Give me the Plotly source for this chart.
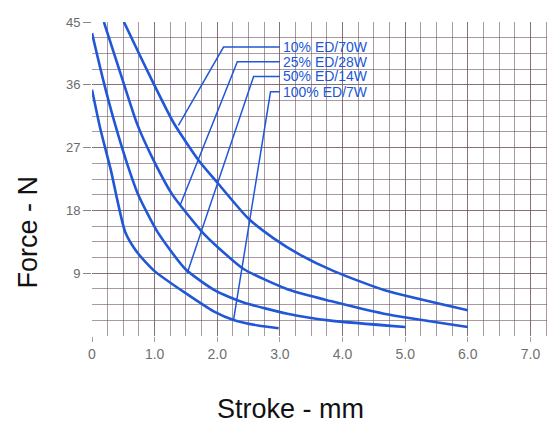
import plotly.graph_objects as go

# ---- data ----
series_labels = ["10% ED/70W", "25% ED/28W", "50% ED/14W", "100% ED/7W"]

stroke_10 = [0.51, 0.9, 1.3, 1.7, 2.0, 2.5, 2.9, 3.33, 3.86, 4.66, 6.0]
force_10 = [45.0, 37.7, 30.6, 25.2, 22.0, 16.8, 14.0, 11.6, 9.3, 6.6, 3.7]

stroke_25 = [0.19, 0.47, 0.72, 0.96, 1.28, 1.76, 2.0, 2.42, 3.12, 3.81, 4.66, 6.0]
force_25 = [45.0, 37.2, 30.4, 25.6, 20.3, 14.9, 12.8, 9.6, 6.7, 5.0, 3.2, 1.3]

stroke_50 = [0.0, 0.17, 0.36, 0.55, 0.74, 1.04, 1.49, 1.97, 2.42, 3.12, 3.81, 5.0]
force_50 = [43.4, 37.0, 30.6, 25.0, 20.2, 15.0, 9.6, 6.5, 4.8, 3.2, 2.2, 1.3]

stroke_100 = [0.0, 0.13, 0.3, 0.53, 0.72, 1.0, 1.5, 1.95, 2.26, 2.65, 2.98]
force_100 = [35.3, 29.8, 23.8, 14.9, 12.0, 9.3, 6.1, 3.5, 2.3, 1.5, 1.1]

# leader lines: point on curve -> elbow -> label end
leader_x = [[1.38, 2.10, 3.0], [1.41, 2.32, 3.0], [1.52, 2.58, 3.0], [2.26, 2.85, 3.0]]
leader_y = [[30.2, 41.4, 41.4], [18.8, 39.3, 39.3], [9.0, 37.2, 37.2], [2.3, 35.0, 35.0]]
label_y = [41.4, 39.3, 37.2, 35.0]

x_ticks = [0, 1, 2, 3, 4, 5, 6, 7]
x_ticktext = ["0", "1.0", "2.0", "3.0", "4.0", "5.0", "6.0", "7.0"]
y_ticks = [9, 18, 27, 36, 45]

BLUE = "#2157d6"
GRID = "rgba(110,85,100,0.6)"
FONT = "Arial, Liberation Sans, sans-serif"

fig = go.Figure()

curves = [(stroke_10, force_10), (stroke_25, force_25), (stroke_50, force_50), (stroke_100, force_100)]
for (xs, ys), name in zip(curves, series_labels):
    fig.add_trace(go.Scatter(x=xs, y=ys, mode="lines", name=name,
                             line=dict(color=BLUE, width=2.6, shape="spline", smoothing=0.6),
                             showlegend=False, hoverinfo="skip"))

for lx, ly in zip(leader_x, leader_y):
    fig.add_trace(go.Scatter(x=lx, y=ly, mode="lines",
                             line=dict(color=BLUE, width=1.5),
                             showlegend=False, hoverinfo="skip"))

for name, yv in zip(series_labels, label_y):
    fig.add_annotation(x=3.03, y=yv, xref="x", yref="y", text=name, showarrow=False,
                       xanchor="left", yanchor="middle", borderpad=0,
                       font=dict(family=FONT, size=14, color=BLUE))

fig.add_annotation(x=-0.14, y=0.33, xref="paper", yref="paper", text="Force - N",
                   showarrow=False, textangle=-90, xanchor="center", yanchor="middle",
                   font=dict(family=FONT, size=27, color="#111"))
fig.add_annotation(x=0.436, y=-0.231, xref="paper", yref="paper", text="Stroke - mm",
                   showarrow=False, xanchor="center", yanchor="middle",
                   font=dict(family=FONT, size=27, color="#111"))

# page body has an 8px margin: shrink the figure and margins to compensate
fig.update_layout(
    width=547, height=417,
    margin=dict(l=84, r=7, t=8, b=89),
    paper_bgcolor="white", plot_bgcolor="white",
    font=dict(family=FONT, color="#6b6b6b", size=14),
    xaxis=dict(range=[0, 7.28], tickvals=x_ticks, ticktext=x_ticktext,
               showgrid=True, gridcolor=GRID, gridwidth=1,
               ticks="outside", ticklen=5, tickcolor=GRID,
               minor=dict(dtick=0.25, tick0=0, showgrid=True, gridcolor=GRID, gridwidth=1),
               zeroline=False, showline=False, tickfont=dict(size=14, color="#707070")),
    yaxis=dict(range=[0, 45], tickvals=y_ticks,
               showgrid=True, gridcolor=GRID, gridwidth=1,
               ticks="outside", ticklen=8, tickcolor="#888",
               minor=dict(dtick=2.25, tick0=0, showgrid=True, gridcolor=GRID, gridwidth=1),
               zeroline=False, showline=False, tickfont=dict(size=13, color="#6b6b6b")),
)

fig.write_html("out.html")
